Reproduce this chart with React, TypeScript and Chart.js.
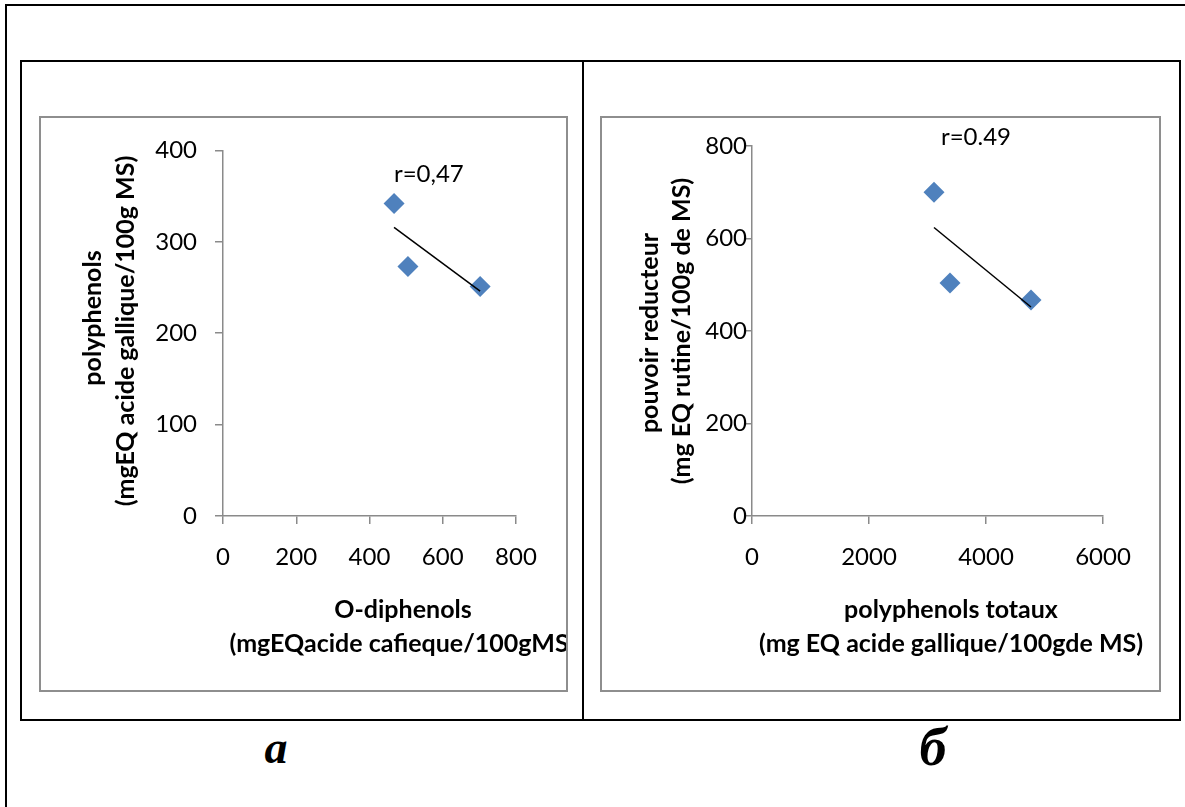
import React, { useEffect, useRef } from "react";
import { Chart, registerables } from "chart.js";

Chart.register(...registerables);

// ---------- Panel a ----------
const oDiphenols = [467, 505, 702];
const polyphenolsA = [342, 273, 251];
const xTicksA = [0, 200, 400, 600, 800];
const yTicksA = [0, 100, 200, 300, 400];
const rLabelA = "r=0,47";
const rPosA: [number, number] = [562, 374];
const xTitleA = ["O-diphenols", "(mgEQacide cafieque/100gMS"];
const yTitleA = ["polyphenols", "(mgEQ acide gallique/100g MS)"];

// ---------- Panel b ----------
const polyphenolsTotaux = [3111, 3385, 4769];
const pouvoirReducteur = [700, 504, 467];
const xTicksB = [0, 2000, 4000, 6000];
const yTicksB = [0, 200, 400, 600, 800];
const rLabelB = "r=0.49";
const rPosB: [number, number] = [3829, 819];
const xTitleB = ["polyphenols totaux", "(mg EQ acide gallique/100gde MS)"];
const yTitleB = ["pouvoir reducteur", "(mg EQ rutine/100g de MS)"];

const panelLabels = ["a", "б"];

const AXIS_GRAY = "#8a8a8a";
const MARKER_BLUE = "#4F81BD";
const FONT = "Lato";

function linearTrend(xs: number[], ys: number[]) {
  const n = xs.length;
  const mx = xs.reduce((a, b) => a + b, 0) / n;
  const my = ys.reduce((a, b) => a + b, 0) / n;
  let sxy = 0;
  let sxx = 0;
  for (let i = 0; i < n; i++) {
    sxy += (xs[i] - mx) * (ys[i] - my);
    sxx += (xs[i] - mx) * (xs[i] - mx);
  }
  const slope = sxy / sxx;
  const x0 = Math.min(...xs);
  const x1 = Math.max(...xs);
  return [
    { x: x0, y: my + slope * (x0 - mx) },
    { x: x1, y: my + slope * (x1 - mx) },
  ];
}

const textPlugin = {
  id: "panelText",
  afterDraw(chart: any, _args: any, opts: any) {
    const ctx = chart.ctx as CanvasRenderingContext2D;
    ctx.save();
    ctx.fillStyle = "#000";
    ctx.textAlign = "center";
    ctx.textBaseline = "middle";
    // correlation label
    ctx.font = `24px ${FONT}`;
    const rx = chart.scales.x.getPixelForValue(opts.rAt[0]);
    const ry = chart.scales.y.getPixelForValue(opts.rAt[1]);
    ctx.fillText(opts.rLabel, rx, ry);
    // x title
    ctx.font = `bold ${opts.titleSize}px ${FONT}`;
    opts.xTitle.forEach((t: string, i: number) => {
      ctx.fillText(t, opts.xTitlePos[i][0], opts.xTitlePos[i][1]);
    });
    // y title (rotated)
    opts.yTitle.forEach((t: string, i: number) => {
      ctx.save();
      ctx.translate(opts.yTitlePos[i][0], opts.yTitlePos[i][1]);
      ctx.rotate(-Math.PI / 2);
      ctx.fillText(t, 0, 0);
      ctx.restore();
    });
    ctx.restore();
  },
};

type PanelProps = {
  left: number;
  top: number;
  width: number;
  height: number;
  xs: number[];
  ys: number[];
  xTicks: number[];
  yTicks: number[];
  plot: { left: number; top: number; right: number; bottom: number };
  yTickPad: number;
  rLabel: string;
  rAt: [number, number];
  xTitle: string[];
  xTitlePos: [number, number][];
  yTitle: string[];
  yTitlePos: [number, number][];
  titleSize: number;
};

function ScatterPanel(p: PanelProps) {
  const ref = useRef<HTMLCanvasElement | null>(null);
  useEffect(() => {
    if (!ref.current) return;
    const pts = p.xs.map((x, i) => ({ x, y: p.ys[i] }));
    const trend = linearTrend(p.xs, p.ys);
    const tickFont = { family: FONT, size: 24 };
    const chart = new Chart(ref.current, {
      type: "scatter",
      data: {
        datasets: [
          {
            data: trend,
            showLine: true,
            borderColor: "#000",
            borderWidth: 1.5,
            pointRadius: 0,
            order: 0,
          } as any,
          {
            data: pts,
            pointStyle: "rectRot",
            pointRadius: 10.5,
            backgroundColor: MARKER_BLUE,
            borderColor: MARKER_BLUE,
            borderWidth: 0,
            order: 1,
          } as any,
        ],
      },
      options: {
        responsive: false,
        animation: false,
        clip: false as any,
        layout: {
          padding: { top: p.plot.top, right: p.width - p.plot.right, left: 0, bottom: 0 },
        },
        plugins: {
          legend: { display: false },
          tooltip: { enabled: false },
          panelText: {
            rLabel: p.rLabel,
            rAt: p.rAt,
            xTitle: p.xTitle,
            xTitlePos: p.xTitlePos,
            yTitle: p.yTitle,
            yTitlePos: p.yTitlePos,
            titleSize: p.titleSize,
          },
        } as any,
        scales: {
          x: {
            type: "linear",
            min: p.xTicks[0],
            max: p.xTicks[p.xTicks.length - 1],
            afterBuildTicks: (s: any) => {
              s.ticks = p.xTicks.map((v) => ({ value: v }));
            },
            afterFit: (s: any) => {
              s.height = p.height - p.plot.bottom;
            },
            grid: {
              display: true,
              drawOnChartArea: false,
              drawTicks: true,
              tickLength: 8,
              color: AXIS_GRAY,
              lineWidth: 1.5,
            },
            border: { display: true, color: AXIS_GRAY, width: 1.5 },
            ticks: {
              padding: 19,
              color: "#000",
              maxRotation: 0,
              autoSkip: false,
              font: tickFont,
              callback: (v: any) => String(v),
            },
          },
          y: {
            type: "linear",
            min: p.yTicks[0],
            max: p.yTicks[p.yTicks.length - 1],
            afterBuildTicks: (s: any) => {
              s.ticks = p.yTicks.map((v) => ({ value: v }));
            },
            afterFit: (s: any) => {
              s.width = p.plot.left;
            },
            grid: {
              display: true,
              drawOnChartArea: false,
              drawTicks: true,
              tickLength: 8,
              color: AXIS_GRAY,
              lineWidth: 1.5,
            },
            border: { display: true, color: AXIS_GRAY, width: 1.5 },
            ticks: {
              padding: p.yTickPad,
              color: "#000",
              autoSkip: false,
              font: tickFont,
              callback: (v: any) => String(v),
            },
          },
        },
      } as any,
      plugins: [textPlugin as any],
    });
    return () => chart.destroy();
  }, []);
  return (
    <canvas
      ref={ref}
      width={p.width}
      height={p.height}
      style={{ position: "absolute", left: p.left, top: p.top, width: p.width, height: p.height }}
    />
  );
}

export default function App() {
  return (
    <div
      style={{
        position: "fixed",
        left: 0,
        top: 0,
        width: 1185,
        height: 807,
        overflow: "hidden",
        background: "#fff",
      }}
    >
      {/* outer frame (top & left edges visible) */}
      <div
        style={{
          position: "absolute",
          left: 5,
          top: 4,
          width: 1300,
          height: 900,
          borderTop: "2.5px solid #000",
          borderLeft: "2.5px solid #000",
        }}
      />
      {/* inner table */}
      <div
        style={{
          position: "absolute",
          left: 20,
          top: 60,
          width: 1161,
          height: 661,
          border: "2px solid #000",
          boxSizing: "border-box",
        }}
      />
      <div style={{ position: "absolute", left: 582, top: 60, width: 2, height: 661, background: "#000" }} />

      <ScatterPanel
        left={40}
        top={118}
        width={527}
        height={572}
        xs={oDiphenols}
        ys={polyphenolsA}
        xTicks={xTicksA}
        yTicks={yTicksA}
        plot={{ left: 183, top: 28, right: 476, bottom: 398 }}
        yTickPad={18}
        rLabel={rLabelA}
        rAt={rPosA}
        xTitle={xTitleA}
        xTitlePos={[
          [363, 492],
          [359, 526],
        ]}
        yTitle={yTitleA}
        yTitlePos={[
          [53, 200],
          [86, 213],
        ]}
        titleSize={25}
      />
      <div
        style={{
          position: "absolute",
          left: 39,
          top: 115.5,
          width: 529,
          height: 576,
          border: "2.5px solid #8e8e8e",
          boxSizing: "border-box",
          pointerEvents: "none",
        }}
      />

      <ScatterPanel
        left={600}
        top={118}
        width={559}
        height={572}
        xs={polyphenolsTotaux}
        ys={pouvoirReducteur}
        xTicks={xTicksB}
        yTicks={yTicksB}
        plot={{ left: 152, top: 28, right: 503, bottom: 398 }}
        yTickPad={-3}
        rLabel={rLabelB}
        rAt={rPosB}
        xTitle={xTitleB}
        xTitlePos={[
          [351, 492],
          [351, 526],
        ]}
        yTitle={yTitleB}
        yTitlePos={[
          [50, 215],
          [82, 213],
        ]}
        titleSize={25}
      />
      <div
        style={{
          position: "absolute",
          left: 599.5,
          top: 115.5,
          width: 561,
          height: 576,
          border: "2.5px solid #8e8e8e",
          boxSizing: "border-box",
          pointerEvents: "none",
        }}
      />

      <div
        style={{
          position: "absolute",
          left: 226,
          top: 725,
          width: 100,
          textAlign: "center",
          fontFamily: "'Liberation Serif', serif",
          fontWeight: "bold",
          fontStyle: "italic",
          fontSize: 46,
          lineHeight: 1,
          color: "#000",
        }}
      >
        {panelLabels[0]}
      </div>
      <div
        style={{
          position: "absolute",
          left: 883,
          top: 720,
          width: 100,
          textAlign: "center",
          fontFamily: "'Liberation Serif', serif",
          fontWeight: "bold",
          fontStyle: "italic",
          fontSize: 54,
          lineHeight: 1,
          color: "#000",
        }}
      >
        {panelLabels[1]}
      </div>
    </div>
  );
}
